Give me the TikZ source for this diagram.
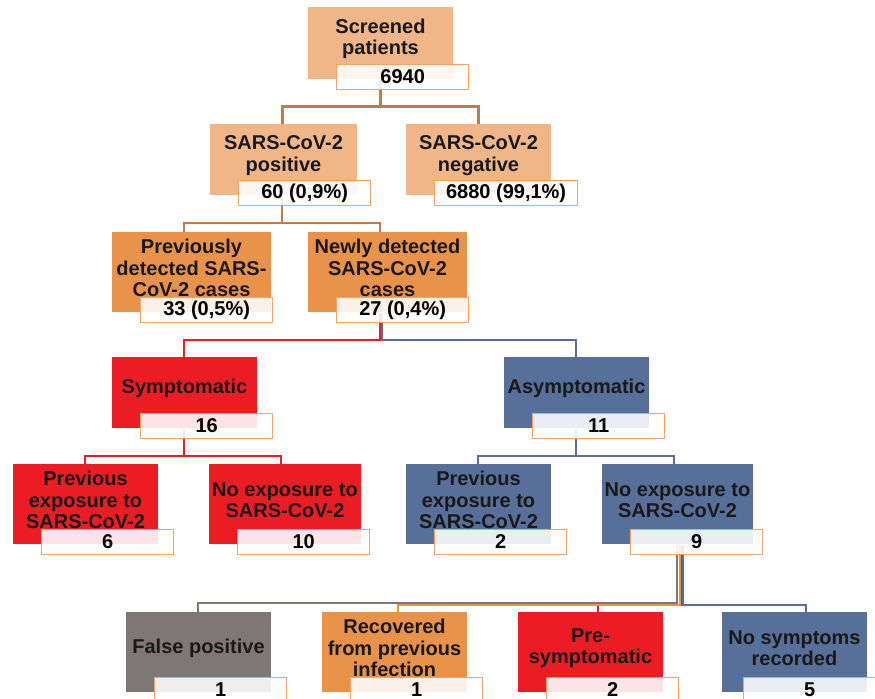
\documentclass[tikz,border=0pt]{standalone}
\usepackage{fontspec}
\setmainfont{Liberation Sans}
\usepackage{tikz}
\usetikzlibrary{positioning,calc}
\definecolor{peach}{HTML}{F0B688}
\definecolor{amber}{HTML}{E8924A}
\definecolor{alarm}{HTML}{EC1C24}
\definecolor{slate}{HTML}{576F99}
\definecolor{ash}{HTML}{7F7775}
\definecolor{numedge}{HTML}{F2A466}
\definecolor{rust}{HTML}{C17B43}
\pgfdeclarelayer{bg}
\pgfsetlayers{bg,main}
\tikzset{cardbox/.style={rectangle,inner sep=0pt,draw=none},
  cardtxt/.style={align=center,inner sep=0pt,text=black!90,font=\bfseries\fontsize{10}{10.75}\selectfont},
  numbox/.style={rectangle,draw=numedge,line width=.65pt,fill=white,fill opacity=.88,text opacity=1,
    minimum width=66pt,minimum height=12.5pt,inner sep=0pt,font=\bfseries\fontsize{10}{12}\selectfont},
  link/.style={line width=1.2pt}}
\newcommand{\card}[8][]{%
\node[cardbox,fill=#6,minimum width=#4*.5pt,minimum height=#5*.5pt,anchor=north west] (#2) at (#3) {};
\coordinate (#2-top) at ($(#2.north west)+(72,0)$);
\coordinate (#2-bot) at ($(#2.south west)+(72,0)$);
\node[cardtxt] (#2-t) at ($(#2.north west)+({#4/2},{(#5-16)/2+4})$) {#7};
\node[numbox,anchor=north west,#1] (#2-n) at ($(#2.south west)+(28,-16)$) {#8};
}

\begin{document}
\begin{tikzpicture}[x=.5pt,y=-.5pt]
\clip (0,0) rectangle (875,698);
\useasboundingbox (0,0) rectangle (875,698);
\card{scr}{308,7}{145}{72}{peach}{Screened\\patients}{6940}
\card{pos}{210,124}{147}{71}{peach}{SARS-CoV-2\\positive}{60 (0,9\%)}
\card[minimum width=71.5pt]{neg}{406,124}{145}{71}{peach}{SARS-CoV-2\\negative}{6880 (99,1\%)}
\card{prv}{112,232}{159}{80}{amber}{Previously\\detected SARS-\\CoV-2 cases}{33 (0,5\%)}
\card{new}{308,232}{159}{80}{amber}{Newly detected\\SARS-CoV-2\\cases}{27 (0,4\%)}
\card{sym}{112,357}{145}{71}{alarm}{Symptomatic}{16}
\card{asy}{504,357}{145}{71}{slate}{Asymptomatic}{11}
\card{rpe}{13,464}{145}{80}{alarm}{Previous\\exposure to\\SARS-CoV-2}{6}
\card{rne}{209,464}{152}{80}{alarm}{No exposure to\\SARS-CoV-2}{10}
\card{bpe}{406,464}{145}{80}{slate}{Previous\\exposure to\\SARS-CoV-2}{2}
\card{bne}{602,464}{151}{80}{slate}{No exposure to\\SARS-CoV-2}{9}
\card{fp}{126,612}{145}{80}{ash}{False positive}{1}
\card{rec}{322,612}{145}{80}{amber}{Recovered\\from previous\\infection}{1}
\card{pre}{518,612}{145}{80}{alarm}{Pre-\\symptomatic}{2}
\card[xshift=-3.5pt]{nsr}{722,612}{145}{80}{slate}{No symptoms\\recorded}{5}
\begin{pgfonlayer}{bg}
\draw[link,rust,line width=1.5pt] (scr-bot) -- ++(0,27) -| (pos-top);
\draw[link,rust,line width=1.5pt] (scr-bot) -- ++(0,27) -| (neg-top);
\draw[link,rust] (pos-bot) -- ++(0,27) -| (prv-top);
\draw[link,rust] (pos-bot) -- ++(0,27) -| (new-top);
\draw[link,slate] ([xshift=.8pt]new-bot) -- ++(0,27) -| (asy-top);
\draw[link,alarm] (new-bot) -- ++(0,27) -| (sym-top);
\draw[link,alarm] (sym-bot) -- ++(0,27) -| (rpe-top);
\draw[link,alarm] (sym-bot) -- ++(0,27) -| (rne-top);
\draw[link,slate] (asy-bot) -- ++(0,27) -| (bpe-top);
\draw[link,slate] (asy-bot) -- ++(0,27) -| (bne-top);
\draw[link,slate,line width=1pt] ([xshift=4.5pt]bne-bot) -- ++(0,60) -| ([xshift=6pt]nsr-top);
\draw[link,alarm,line width=1pt] ([xshift=3.5pt]bne-bot) -- ++(0,60) -| ([xshift=4pt]pre-top);
\draw[link,amber,line width=1pt] ([xshift=3pt]bne-bot) -- ++(0,60) -| ([xshift=2pt]rec-top);
\draw[link,ash] ([xshift=1.5pt]bne-bot) -- ++(0,58) -| (fp-top);
\end{pgfonlayer}
\end{tikzpicture}
\end{document}
